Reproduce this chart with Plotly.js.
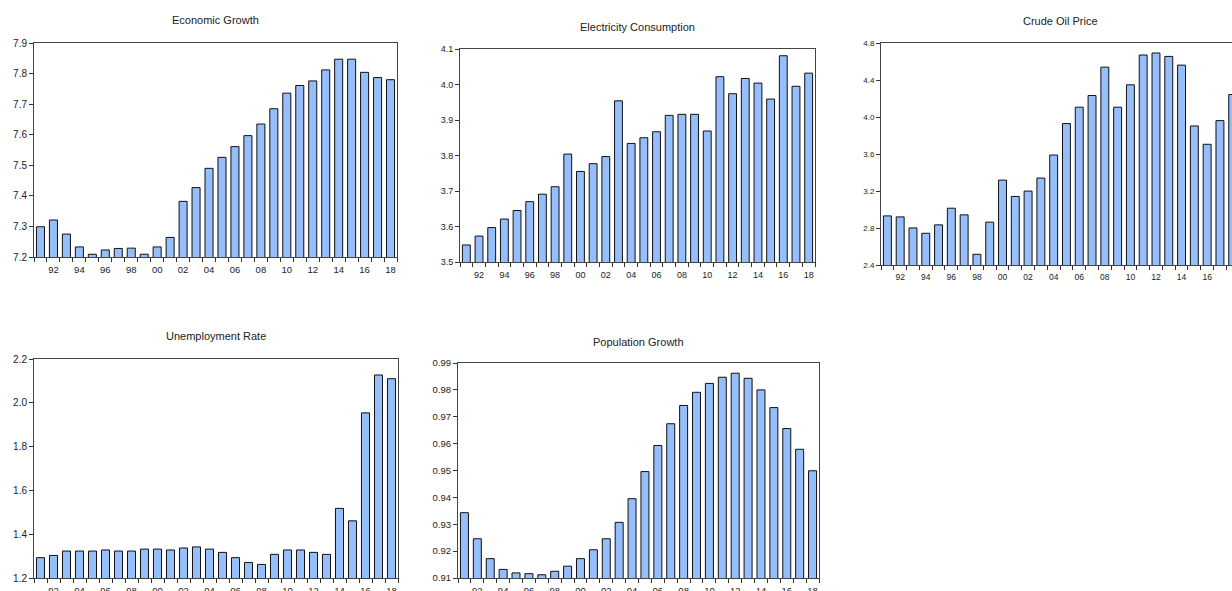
<!DOCTYPE html>
<html>
<head>
<meta charset="utf-8">
<script src="https://cdn.plot.ly/plotly-3.0.1.min.js"></script>
<style>html,body{margin:0;padding:0;background:#fff;}#chart{width:1232px;height:591px;}</style>
</head>
<body>
<div id="chart"></div>
<script>
const years = [1991,1992,1993,1994,1995,1996,1997,1998,1999,2000,2001,2002,2003,2004,2005,2006,2007,2008,2009,2010,2011,2012,2013,2014,2015,2016,2017,2018];
const titles = ["Economic Growth","Electricity Consumption","Crude Oil Price","Unemployment Rate","Population Growth"];
const economicGrowth = [7.299,7.321,7.275,7.233,7.209,7.223,7.228,7.229,7.209,7.233,7.264,7.382,7.427,7.490,7.526,7.561,7.597,7.635,7.685,7.736,7.761,7.776,7.812,7.847,7.847,7.804,7.787,7.780];
const electricity = [3.548,3.573,3.597,3.621,3.645,3.670,3.691,3.712,3.804,3.755,3.777,3.797,3.954,3.834,3.850,3.867,3.913,3.916,3.916,3.869,4.022,3.974,4.017,4.004,3.959,4.081,3.995,4.032];
const crudeOil = [2.931,2.920,2.801,2.743,2.834,3.014,2.942,2.516,2.863,3.318,3.141,3.199,3.340,3.589,3.929,4.106,4.232,4.539,4.106,4.348,4.670,4.692,4.655,4.561,3.903,3.705,3.961,4.243];
const unemployment = [1.293,1.303,1.323,1.323,1.323,1.328,1.323,1.323,1.332,1.332,1.328,1.337,1.342,1.332,1.317,1.293,1.271,1.262,1.308,1.328,1.328,1.317,1.308,1.518,1.461,1.954,2.127,2.110];
const population = [0.9343,0.9246,0.9172,0.9132,0.9119,0.9116,0.9112,0.9125,0.9144,0.9172,0.9205,0.9246,0.9307,0.9395,0.9496,0.9593,0.9674,0.9742,0.9791,0.9824,0.9847,0.9862,0.9843,0.9800,0.9734,0.9656,0.9579,0.9499];
const yRanges = [[7.2,7.9],[3.5,4.1],[2.4,4.8],[1.2,2.2],[0.91,0.99]];
const yDticks = [0.1,0.1,0.4,0.2,0.01];
const series = [economicGrowth, electricity, crudeOil, unemployment, population];

const W = 1232, H = 591;
// pixel boxes [left, right, top, bottom]
const boxes = [[34,397,43,257],[460,815,49,262],[881,1232,43,265],[34,398,359,578],[458,819,363,578]];
const titleY = [20,27,21,336,342];
const yFmt = ['.1f','.1f','.1f','.1f','.2f'];
const yFont = [10,9,8,10,9.5];
const xFont = [9.5,9,8.5,9.5,9.5];

const evenYears = years.filter(y => y % 2 === 0);
const evenLabels = evenYears.map(y => String(y).slice(2));
const boundaries = years.map(y => y - 0.5).concat([years[years.length-1] + 0.5]);

const data = [];
const layout = {
  width: W, height: H, margin: {l:0,r:0,t:0,b:0},
  paper_bgcolor: '#fff', plot_bgcolor: '#fff',
  showlegend: false, bargap: 0.38,
  font: {family: 'Liberation Sans, Arial, sans-serif', color: '#222'},
  annotations: []
};

series.forEach((vals, i) => {
  const n = i + 1;
  const xa = 'x' + (n === 1 ? '' : n), ya = 'y' + (n === 1 ? '' : n);
  data.push({
    type: 'bar', x: years, y: vals, xaxis: xa, yaxis: ya,
    marker: {color: 'rgb(150,190,250)', line: {color: '#111', width: 1}},
    hoverinfo: 'x+y'
  });
  const b = boxes[i];
  let xRange = [years[0] - 0.5, years[years.length-1] + 0.5];
  if (i === 2) {
    const perYear = 12.79;
    xRange = [years[0] - 0.5, years[0] - 0.5 + (b[1] - b[0]) / perYear];
  }
  layout['xaxis' + (n === 1 ? '' : n)] = {
    domain: [b[0]/W, b[1]/W], anchor: ya, range: xRange,
    tickmode: 'array', tickvals: evenYears, ticktext: evenLabels,
    ticks: 'outside', ticklen: 4, tickcolor: 'rgba(0,0,0,0)',
    minor: {tickmode: 'array', tickvals: boundaries, ticks: 'outside', ticklen: 4, tickcolor: '#333', tickwidth: 1, showgrid: false},
    showline: true, linecolor: '#444', linewidth: 1, mirror: true,
    showgrid: false, zeroline: false, fixedrange: true,
    tickfont: {size: xFont[i], color: '#222'}
  };
  layout['yaxis' + (n === 1 ? '' : n)] = {
    domain: [1 - b[3]/H, 1 - b[2]/H], anchor: xa, range: yRanges[i],
    dtick: yDticks[i], tick0: yRanges[i][0], tickformat: yFmt[i],
    ticks: 'outside', ticklen: 4, tickcolor: '#333',
    showline: true, linecolor: '#444', linewidth: 1, mirror: i === 2 ? false : true,
    showgrid: false, zeroline: false, fixedrange: true,
    tickfont: {size: yFont[i], color: '#222'}
  };
  layout.annotations.push({
    text: titles[i], xref: 'paper', yref: 'paper',
    x: ((b[0] + (i === 2 ? 1239 : b[1])) / 2) / W, y: 1 - titleY[i]/H,
    xanchor: 'center', yanchor: 'middle', showarrow: false,
    font: {size: 11, color: '#222'}
  });
});

Plotly.newPlot('chart', data, layout, {displayModeBar: false, staticPlot: true});
</script>
</body>
</html>
